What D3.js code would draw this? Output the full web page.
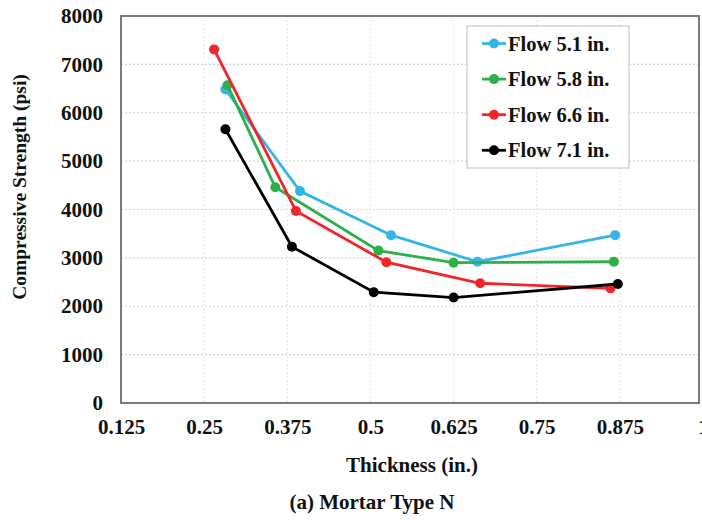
<!DOCTYPE html>
<html>
<head>
<meta charset="utf-8">
<script src="https://cdn.jsdelivr.net/npm/d3@7"></script>
<style>
  body { margin: 0; background: #fff; }
  svg { display: block; font-family: "Liberation Serif", "DejaVu Serif", serif; font-weight: bold; }
</style>
</head>
<body>
<svg width="702" height="520"></svg>
<script>
// Dados
const seriesNames = ["Flow 5.1 in.", "Flow 5.8 in.", "Flow 6.6 in.", "Flow 7.1 in."];
const seriesColors = ["#33b5e8", "#2bb04a", "#f0262b", "#000000"];

const thick51 = [0.282, 0.394, 0.531, 0.661, 0.868];
const str51 = [6480, 4380, 3470, 2920, 3470];
const thick58 = [0.285, 0.357, 0.512, 0.625, 0.866];
const str58 = [6570, 4460, 3150, 2900, 2920];
const thick66 = [0.265, 0.388, 0.524, 0.665, 0.861];
const str66 = [7310, 3970, 2910, 2475, 2370];
const thick71 = [0.282, 0.382, 0.505, 0.625, 0.872];
const str71 = [5660, 3230, 2290, 2180, 2460];

const xTicks = [0.125, 0.25, 0.375, 0.5, 0.625, 0.75, 0.875, 1];
const yTicks = [0, 1000, 2000, 3000, 4000, 5000, 6000, 7000, 8000];

const series = [
  { name: seriesNames[0], color: seriesColors[0], xs: thick51, ys: str51 },
  { name: seriesNames[1], color: seriesColors[1], xs: thick58, ys: str58 },
  { name: seriesNames[2], color: seriesColors[2], xs: thick66, ys: str66 },
  { name: seriesNames[3], color: seriesColors[3], xs: thick71, ys: str71 }
].map(s => ({ ...s, points: s.xs.map((x, i) => ({ x: x, y: s.ys[i] })) }));

const svg = d3.select("svg");
const margens = { left: 121, top: 16 };
const innerHeight = 387;
const frameWidth = 578;   // moldura termina antes do valor 1
const xEnd = 582;         // posição do valor 1 (fica cortado na borda)

const group = svg.append("g")
  .attr("transform", `translate(${margens.left},${margens.top})`);

const x = d3.scaleLinear().domain([0.125, 1]).range([0, xEnd]);
const y = d3.scaleLinear().domain([0, 8000]).range([innerHeight, 0]);

// Grade pontilhada
group.append("g")
  .selectAll("line")
  .data(yTicks.slice(1, -1))
  .enter().append("line")
  .attr("x1", 0).attr("x2", frameWidth)
  .attr("y1", d => y(d)).attr("y2", d => y(d))
  .attr("stroke", "#d4d4d4").attr("stroke-width", 1.2)
  .attr("stroke-dasharray", "2,2");

group.append("g")
  .selectAll("line")
  .data(xTicks.slice(1, -1))
  .enter().append("line")
  .attr("x1", d => x(d)).attr("x2", d => x(d))
  .attr("y1", 0).attr("y2", innerHeight)
  .attr("stroke", "#e6e6e6").attr("stroke-width", 1)
  .attr("stroke-dasharray", "2,2");

// Eixos (só os rótulos)
const xAxis = group.append("g")
  .attr("transform", `translate(0,${innerHeight})`)
  .call(d3.axisBottom(x).tickValues(xTicks).tickSize(0).tickPadding(16)
    .tickFormat(d => String(+d.toFixed(3))));
const yAxis = group.append("g")
  .call(d3.axisLeft(y).tickValues(yTicks).tickSize(0).tickPadding(18)
    .tickFormat(d3.format("d")));

[xAxis, yAxis].forEach(a => {
  a.select(".domain").remove();
  a.selectAll("text")
    .attr("font-family", "Liberation Serif, serif")
    .attr("font-weight", "bold")
    .attr("font-size", 21)
    .attr("fill", "#111");
});

// Moldura
group.append("rect")
  .attr("x", 0).attr("y", 0)
  .attr("width", frameWidth).attr("height", innerHeight)
  .attr("fill", "none")
  .attr("stroke", "#7a7a7a")
  .attr("stroke-width", 2);

// Linhas e marcadores
const line = d3.line().x(d => x(d.x)).y(d => y(d.y));

series.forEach(s => {
  group.append("path")
    .datum(s.points)
    .attr("fill", "none")
    .attr("stroke", s.color)
    .attr("stroke-width", 2.8)
    .attr("d", line);
  group.selectAll(null)
    .data(s.points)
    .enter().append("circle")
    .attr("cx", d => x(d.x))
    .attr("cy", d => y(d.y))
    .attr("r", 5)
    .attr("fill", s.color);
});

// Legenda
const legend = svg.append("g").attr("transform", "translate(467,26)");
legend.append("rect")
  .attr("width", 162).attr("height", 142)
  .attr("fill", "#fff")
  .attr("stroke", "#c8c8c8").attr("stroke-width", 1.2);

series.forEach((s, i) => {
  const item = legend.append("g").attr("transform", `translate(0,${17.5 + i * 35.6})`);
  item.append("line")
    .attr("x1", 15).attr("x2", 39)
    .attr("stroke", s.color).attr("stroke-width", 2.8);
  item.append("circle").attr("cx", 27).attr("r", 5).attr("fill", s.color);
  item.append("text")
    .attr("x", 41).attr("dy", "0.35em")
    .attr("font-size", 20.5)
    .attr("fill", "#111")
    .text(s.name);
});

// Títulos
svg.append("text")
  .attr("text-anchor", "middle")
  .attr("x", 412).attr("y", 472)
  .attr("font-size", 21)
  .attr("fill", "#111")
  .text("Thickness (in.)");

svg.append("text")
  .attr("text-anchor", "middle")
  .attr("transform", "translate(26,187) rotate(-90)")
  .attr("font-size", 19.5)
  .attr("fill", "#111")
  .text("Compressive Strength (psi)");

svg.append("text")
  .attr("text-anchor", "middle")
  .attr("x", 372).attr("y", 509)
  .attr("font-size", 21)
  .attr("fill", "#111")
  .text("(a) Mortar Type N");
</script>
</body>
</html>
